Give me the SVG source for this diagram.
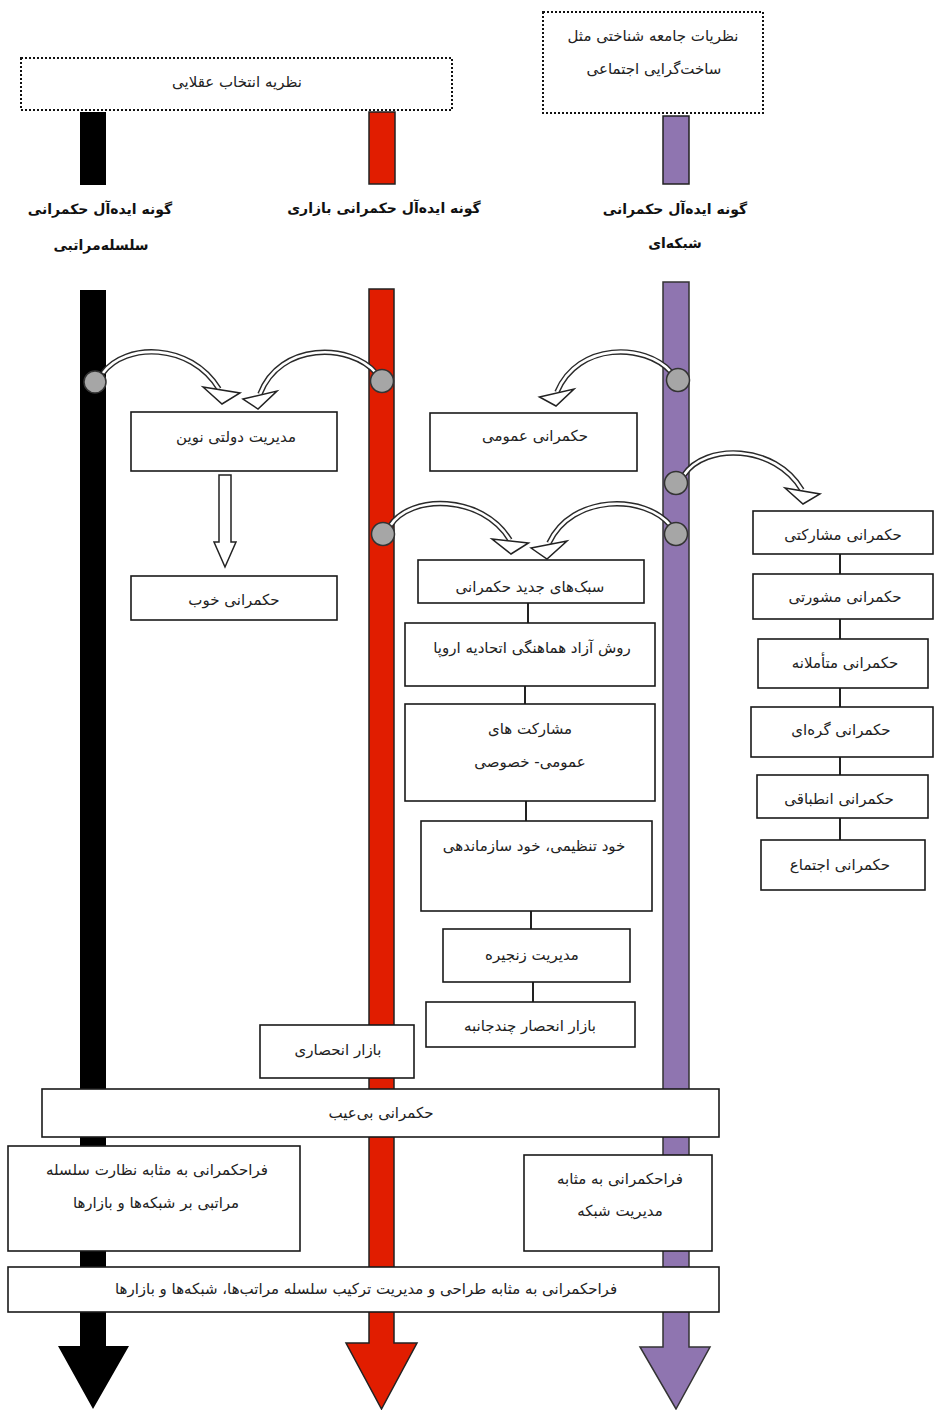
<svg xmlns="http://www.w3.org/2000/svg" width="934" height="1410" viewBox="0 0 934 1410">
<style>
.box{fill:#fff;stroke:#1a1a1a;stroke-width:1.6}
.dot{fill:#fff;stroke:#111;stroke-width:2;stroke-dasharray:2 2}
.t{font-family:"DejaVu Sans",sans-serif;font-size:15px;fill:#222;text-anchor:middle;dominant-baseline:central;direction:rtl}
.h{font-weight:bold;font-size:14px;fill:#111}
.ln{stroke:#222;stroke-width:2;fill:none}
.dotc{fill:#a6a6a6;stroke:#333;stroke-width:1.5}
.ao{fill:none;stroke:#2a2a2a;stroke-width:5.5}
.ai{fill:none;stroke:#fff;stroke-width:2.6}
.hd{fill:#fff;stroke:#222;stroke-width:1.5;stroke-linejoin:miter}
</style>
<rect width="934" height="1410" fill="#fff"/>
<g id="bars">
<polygon points="80,290 106,290 106,1346 129,1346 93,1409 58,1346 80,1346" fill="#000"/>
<polygon points="369,289 394,289 394,1343 417,1343 381.5,1409 346,1343 369,1343" fill="#e11d00" stroke="#222" stroke-width="1.5"/>
<polygon points="663,282 689,282 689,1347 710,1347 676,1409 640,1347 663,1347" fill="#8f75b0" stroke="#333" stroke-width="1.5"/>
<rect x="80" y="112" width="26" height="73" fill="#000"/>
<rect x="369" y="112" width="26" height="72" fill="#e11d00" stroke="#222" stroke-width="1.5"/>
<rect x="663" y="116" width="26" height="68" fill="#8f75b0" stroke="#222" stroke-width="1.5"/>
</g>
<g id="theory-rational">
<rect class="dot" x="21" y="58" width="431" height="52"/>
<text class="t" x="237" y="82">نظریه انتخاب عقلایی</text>
</g>
<g id="theory-social">
<rect class="dot" x="543" y="12" width="220" height="101"/>
<text class="t" x="653" y="36">نظریات جامعه شناختی مثل</text>
<text class="t" x="654" y="69">ساخت&#8204;گرایی اجتماعی</text>
</g>
<g id="label-hier">
<text class="t h" x="100" y="209">گونه ایده&#8204;آل حکمرانی</text>
<text class="t h" x="101" y="245">سلسله&#8204;مراتبی</text>
</g>
<g id="label-market">
<text class="t h" x="384" y="208">گونه ایده&#8204;آل حکمرانی بازاری</text>
</g>
<g id="label-network">
<text class="t h" x="675" y="209">گونه ایده&#8204;آل حکمرانی</text>
<text class="t h" x="675" y="243">شبکه&#8204;ای</text>
</g>
<g id="connectors">
<path class="ao" d="M103,373 C125,343 190,342 219,389"/>
<path class="ai" d="M103,373 C125,343 190,342 219,389"/>
<polygon class="hd" points="203,387 240,393 222,404"/>
<path class="ao" d="M376,373 C350,343 280,342 260,394"/>
<path class="ai" d="M376,373 C350,343 280,342 260,394"/>
<polygon class="hd" points="243,399 277,391 258,409"/>
<path class="ao" d="M671,372 C645,343 578,342 557,392"/>
<path class="ai" d="M671,372 C645,343 578,342 557,392"/>
<polygon class="hd" points="539.5,397 574,389 556,406"/>
<path class="ao" d="M684,475 C705,443 775,444 802,490"/>
<path class="ai" d="M684,475 C705,443 775,444 802,490"/>
<polygon class="hd" points="785,488 820,494 803,504"/>
<path class="ao" d="M671,526 C645,494 572,494 549,543"/>
<path class="ai" d="M671,526 C645,494 572,494 549,543"/>
<polygon class="hd" points="531,548 567,541 547,559"/>
<path class="ao" d="M390,526 C410,494 482,494 510,540"/>
<path class="ai" d="M390,526 C410,494 482,494 510,540"/>
<polygon class="hd" points="492,539 528.5,543 511,554"/>
<polygon class="hd" points="219,475 231,475 231,542 236,542 225,567 214,542 219,542"/>
<line class="ln" x1="528" y1="603" x2="528" y2="623"/>
<line class="ln" x1="525" y1="686" x2="525" y2="704"/>
<line class="ln" x1="526" y1="801" x2="526" y2="821"/>
<line class="ln" x1="531" y1="911" x2="531" y2="929"/>
<line class="ln" x1="533" y1="982" x2="533" y2="1002"/>
<line class="ln" x1="840" y1="554" x2="840" y2="574"/>
<line class="ln" x1="840" y1="619" x2="840" y2="639"/>
<line class="ln" x1="840" y1="688" x2="840" y2="707"/>
<line class="ln" x1="840" y1="757" x2="840" y2="775"/>
<line class="ln" x1="840" y1="818" x2="840" y2="840"/>
<circle class="dotc" cx="95" cy="382" r="11"/>
<circle class="dotc" cx="382" cy="381" r="11.5"/>
<circle class="dotc" cx="678" cy="380" r="11.5"/>
<circle class="dotc" cx="676" cy="483" r="11.5"/>
<circle class="dotc" cx="676" cy="534" r="11.5"/>
<circle class="dotc" cx="383" cy="534" r="11.5"/>
</g>
<g id="npm"><rect class="box" x="131" y="412" width="206" height="59"/><text class="t" x="236" y="437">مدیریت دولتی نوین</text></g>
<g id="good"><rect class="box" x="131" y="576" width="206" height="44"/><text class="t" x="234" y="600">حکمرانی خوب</text></g>
<g id="public"><rect class="box" x="430" y="413" width="207" height="58"/><text class="t" x="535" y="436">حکمرانی عمومی</text></g>
<g id="new-modes"><rect class="box" x="418" y="560" width="226" height="43"/><text class="t" x="530" y="587">سبک&#8204;های جدید حکمرانی</text></g>
<g id="omc"><rect class="box" x="405" y="623" width="250" height="63"/><text class="t" x="532" y="648">روش آزاد هماهنگی اتحادیه اروپا</text></g>
<g id="ppp"><rect class="box" x="405" y="704" width="250" height="97"/><text class="t" x="530" y="729">مشارکت های</text><text class="t" x="530" y="762">عمومی- خصوصی</text></g>
<g id="self"><rect class="box" x="421" y="821" width="231" height="90"/><text class="t" x="534" y="846">خود تنظیمی، خود سازماندهی</text></g>
<g id="chain"><rect class="box" x="443" y="929" width="187" height="53"/><text class="t" x="532" y="955">مدیریت زنجیره</text></g>
<g id="oligopoly"><rect class="box" x="426" y="1002" width="209" height="45"/><text class="t" x="530" y="1026">بازار انحصار چندجانبه</text></g>
<g id="monopoly"><rect class="box" x="260" y="1025" width="154" height="53"/><text class="t" x="338" y="1050">بازار انحصاری</text></g>
<g id="flawless"><rect class="box" x="42" y="1089" width="677" height="48"/><text class="t" x="381" y="1113">حکمرانی بی&#8204;عیب</text></g>
<g id="meta-hier"><rect class="box" x="8" y="1146" width="292" height="105"/><text class="t" x="157" y="1170">فراحکمرانی به مثابه نظارت سلسله</text><text class="t" x="156" y="1203">مراتبی بر شبکه&#8204;ها و بازارها</text></g>
<g id="meta-net"><rect class="box" x="524" y="1155" width="188" height="96"/><text class="t" x="620" y="1179">فراحکمرانی به مثابه</text><text class="t" x="620" y="1211">مدیریت شبکه</text></g>
<g id="meta-design"><rect class="box" x="8" y="1267" width="711" height="45"/><text class="t" x="366" y="1289">فراحکمرانی به مثابه طراحی و مدیریت ترکیب سلسله مراتب&#8204;ها، شبکه&#8204;ها و بازارها</text></g>
<g id="participatory"><rect class="box" x="753" y="511" width="180" height="43"/><text class="t" x="843" y="535">حکمرانی مشارکتی</text></g>
<g id="consultative"><rect class="box" x="753" y="574" width="180" height="45"/><text class="t" x="845" y="597">حکمرانی مشورتی</text></g>
<g id="deliberative"><rect class="box" x="758" y="639" width="170" height="49"/><text class="t" x="845" y="663">حکمرانی متأملانه</text></g>
<g id="nodal"><rect class="box" x="751" y="707" width="182" height="50"/><text class="t" x="841" y="730">حکمرانی گره&#8204;ای</text></g>
<g id="adaptive"><rect class="box" x="757" y="775" width="171" height="43"/><text class="t" x="839" y="799">حکمرانی انطباقی</text></g>
<g id="community"><rect class="box" x="761" y="840" width="164" height="50"/><text class="t" x="840" y="865">حکمرانی اجتماع</text></g>
</svg>
